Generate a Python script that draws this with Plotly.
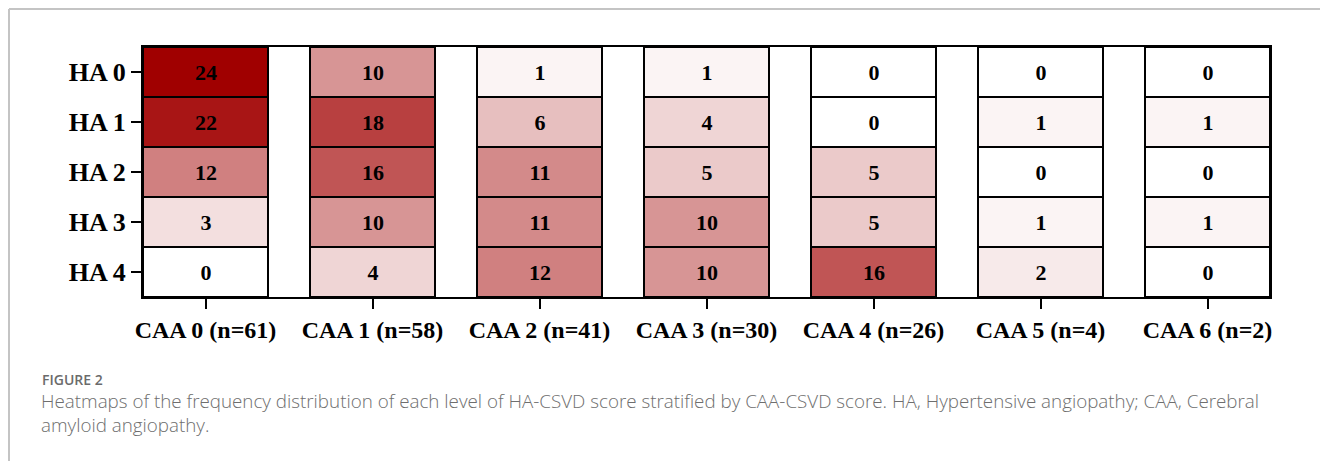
import plotly.graph_objects as go

# Data
caa_labels = ["CAA 0 (n=61)", "CAA 1 (n=58)", "CAA 2 (n=41)", "CAA 3 (n=30)",
              "CAA 4 (n=26)", "CAA 5 (n=4)", "CAA 6 (n=2)"]
ha_labels = ["HA 0", "HA 1", "HA 2", "HA 3", "HA 4"]
caa0 = [24, 22, 12, 3, 0]
caa1 = [10, 18, 16, 10, 4]
caa2 = [1, 6, 11, 11, 12]
caa3 = [1, 4, 5, 10, 10]
caa4 = [0, 0, 5, 5, 16]
caa5 = [0, 1, 0, 1, 2]
caa6 = [0, 1, 0, 1, 0]
columns = [caa0, caa1, caa2, caa3, caa4, caa5, caa6]
caption_title = "FIGURE 2"
caption_lines = [
    "Heatmaps of the frequency distribution of each level of HA-CSVD score stratified by CAA-CSVD score. HA, Hypertensive angiopathy; CAA, Cerebral",
    "amyloid angiopathy.",
]

# Layout constants
COL_W = 1.0
GAP_W = 42 / 125
SERIF = "Liberation Serif"

# Build x edges with gap columns
edges = [0.0]
z, txt = [[] for _ in ha_labels], [[] for _ in ha_labels]
centers = []
col_bounds = []
for ci, col in enumerate(columns):
    x0 = edges[-1]
    edges.append(x0 + COL_W)
    centers.append(x0 + COL_W / 2)
    col_bounds.append((x0, x0 + COL_W))
    for r, v in enumerate(col):
        z[r].append(v)
        txt[r].append(str(v))
    if ci < len(columns) - 1:
        edges.append(edges[-1] + GAP_W)
        for r in range(len(ha_labels)):
            z[r].append(None)
            txt[r].append("")

y_edges = [i - 0.5 for i in range(len(ha_labels) + 1)]

fig = go.Figure(go.Heatmap(
    z=z, x=edges, y=y_edges, text=txt, texttemplate="%{text}",
    textfont=dict(family=SERIF, size=22, color="black", weight="bold"),
    colorscale=[[0, "#ffffff"], [1, "#a00000"]], zmin=0, zmax=24,
    showscale=False, hoverongaps=False,
))

shapes = []
for (x0, x1) in col_bounds:
    for r in range(len(ha_labels)):
        shapes.append(dict(type="rect", xref="x", yref="y", x0=x0, x1=x1,
                           y0=r - 0.5, y1=r + 0.5,
                           line=dict(color="black", width=2), layer="above"))

# page has an 8px body margin; figure coords = page coords - 8
OFF = 8
W, H = 1328, 461
L, T = 143 - OFF, 47 - OFF
pw, ph = 1127, 250
R = W - L - pw
B = H - T - ph
def px(xp):
    return (xp - OFF - L) / pw
def py(yp):
    return 1 + (T - (yp - OFF)) / ph

shapes.append(dict(type="line", xref="paper", yref="paper", x0=px(9), x1=px(1400),
                   y0=py(9), y1=py(9), line=dict(color="#c4c4c4", width=2)))
shapes.append(dict(type="line", xref="paper", yref="paper", x0=px(9), x1=px(9),
                   y0=py(9), y1=py(520), line=dict(color="#c4c4c4", width=2)))

annotations = [
    dict(text=caption_title, xref="paper", yref="paper", x=px(40), y=py(379),
         xanchor="left", yanchor="middle", showarrow=False,
         font=dict(family="Open Sans", size=14, color="#6b6b6b", weight=600)),
    dict(text="<br>".join(caption_lines), xref="paper", yref="paper", x=px(39), y=py(412.5),
         xanchor="left", yanchor="middle", align="left", showarrow=False,
         font=dict(family="Open Sans", size=18.8, color="#6e6e6e", weight=300)),
]

fig.update_layout(
    width=W, height=H,
    margin=dict(l=L, r=R, t=T, b=B),
    plot_bgcolor="white", paper_bgcolor="white",
    shapes=shapes, annotations=annotations,
    xaxis=dict(range=[edges[0], edges[-1]], tickvals=centers, ticktext=caa_labels,
               ticks="outside", ticklen=10, tickwidth=2, tickcolor="black",
               showline=True, linecolor="black", linewidth=2, mirror=True,
               showgrid=False, zeroline=False,
               tickfont=dict(family=SERIF, size=24, color="black", weight="bold")),
    yaxis=dict(range=[len(ha_labels) - 0.5, -0.5], tickvals=list(range(len(ha_labels))),
               ticktext=ha_labels,
               ticks="outside", ticklen=10, tickwidth=2, tickcolor="black",
               showline=True, linecolor="black", linewidth=2, mirror=True,
               showgrid=False, zeroline=False,
               tickfont=dict(family=SERIF, size=26, color="black", weight="bold")),
)

fig.write_html("out.html")
